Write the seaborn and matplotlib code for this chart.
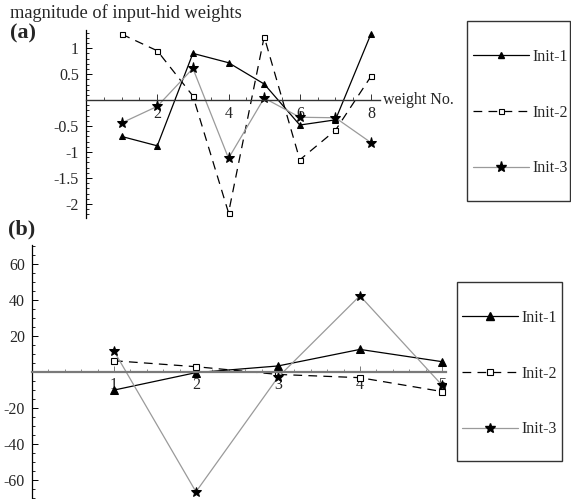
import numpy as np
import pandas as pd
import matplotlib
matplotlib.use('Agg')
import matplotlib.pyplot as plt
import seaborn as sns
from matplotlib.lines import Line2D
from matplotlib.patches import Rectangle
from matplotlib.ticker import FixedLocator, MultipleLocator

# (a) magnitude of input-hid weights, 8 weights
weights_a = [1, 2, 3, 4, 5, 6, 7, 8]
init1_a = [-0.70, -0.88, 0.90, 0.72, 0.31, -0.48, -0.38, 1.28]
init2_a = [1.27, 0.95, 0.08, -2.17, 1.22, -1.15, -0.58, 0.46]
init3_a = [-0.44, -0.12, 0.61, -1.12, 0.04, -0.33, -0.34, -0.82]

# (b) second set of weights, 5 weights
weights_b = [1, 2, 3, 4, 5]
init1_b = [-10.2, -0.5, 3.2, 12.4, 5.6]
init2_b = [6.1, 2.8, -1.5, -3.3, -11.0]
init3_b = [11.5, -66.7, -3.1, 42.2, -7.4]

labels = ['Init-1', 'Init-2', 'Init-3']

a_yticks = [-2, -1.5, -1, -0.5, 0.5, 1]
a_yticklabels = ['-2', '-1.5', '-1', '-0.5', '0.5', '1']
a_xticks = [2, 4, 6, 8]
b_yticks = [-60, -40, -20, 20, 40, 60]
b_yticklabels = ['-60', '-40', '-20', '20', '40', '60']
b_xticks = [1, 2, 3, 4, 5]

sns.set_style('white')
plt.rcParams['font.family'] = ['Liberation Serif', 'DejaVu Serif']
plt.rcParams['axes.unicode_minus'] = False
FS = 11.5

W, H = 571, 499
fig = plt.figure(figsize=(W / 100, H / 100), dpi=100)


def px_axes(left, top, right, bottom):
    return fig.add_axes([left / W, 1 - bottom / H, (right - left) / W, (bottom - top) / H])


def line_styles(big):
    k = 1.25 if big else 1.0
    return [
        dict(color='black', lw=0.9, marker='^', ms=5 * k, mfc='black', mec='black'),
        dict(color='black', lw=0.9, ls=(0, (7, 5)), marker='s', ms=3.6 * k, mfc='white',
             mec='black', mew=0.8),
        dict(color='#9a9a9a', lw=0.9, marker='*', ms=8 * (1.0 if not big else 0.95),
             mfc='black', mec='black'),
    ]


def cross_axes(ax, xaxis_color, xaxis_lw):
    for s in ['top', 'right']:
        ax.spines[s].set_visible(False)
    ax.spines['bottom'].set_position(('data', 0))
    ax.spines['bottom'].set_color(xaxis_color)
    ax.spines['bottom'].set_linewidth(xaxis_lw)
    ax.spines['left'].set_color('black')
    ax.spines['left'].set_linewidth(0.9)
    ax.tick_params(which='both', direction='in', labelsize=FS,
                   bottom=True, left=True, top=False, right=False)
    ax.tick_params(which='major', length=4, width=0.7)
    ax.tick_params(which='minor', length=2, width=0.6)
    ax.tick_params(axis='x', which='both', color=xaxis_color, pad=4)
    ax.tick_params(axis='y', which='both', color='black', pad=5)
    ax.set_xlabel('')
    ax.set_ylabel('')


def legend_box(ax, handles, box, anchor):
    l, t, r, b = box
    fig.patches.append(Rectangle((l / W, 1 - b / H), (r - l) / W, (b - t) / H,
                                 transform=fig.transFigure, fill=False,
                                 edgecolor='#333333', lw=1.0))
    ax.legend(handles=handles, labels=labels, frameon=False, loc='upper left',
              bbox_to_anchor=(anchor[0] / W, 1 - anchor[1] / H),
              bbox_transform=fig.transFigure, borderpad=0, borderaxespad=0,
              handlelength=3.5, handletextpad=0.25, labelspacing=2.48,
              fontsize=FS, numpoints=1)


# ---------------- panel (a)
ax_a = px_axes(86, 30, 380, 218)
series_a = [init1_a, init2_a, init3_a]
handles_a = []
for vals, st in zip(series_a, line_styles(False)):
    sns.lineplot(x=weights_a, y=vals, ax=ax_a, errorbar=None, **st)
    handles_a.append(Line2D([], [], **st))
ax_a.set_xlim(0, 8.25)
ax_a.set_ylim(-2.27, 1.35)
cross_axes(ax_a, '#333333', 1.0)
ax_a.xaxis.set_major_locator(FixedLocator(a_xticks))
ax_a.xaxis.set_minor_locator(MultipleLocator(0.5))
ax_a.yaxis.set_major_locator(FixedLocator(a_yticks))
ax_a.set_yticklabels(a_yticklabels)
ax_a.yaxis.set_minor_locator(MultipleLocator(0.1))
ax_a.text(8.33, 0, 'weight No.', va='center', ha='left', fontsize=FS, clip_on=False)
legend_box(ax_a, handles_a, (467, 21, 570, 201), (472.7, 49))

# ---------------- panel (b)
ax_b = px_axes(32, 245, 446, 499)
series_b = [init1_b, init2_b, init3_b]
handles_b = []
for vals, st in zip(series_b, line_styles(True)):
    sns.lineplot(x=weights_b, y=vals, ax=ax_b, errorbar=None, **st)
    handles_b.append(Line2D([], [], **st))
ax_b.set_xlim(0, 5.05)
ax_b.set_ylim(-70.7, 70.4)
cross_axes(ax_b, '#7a7a7a', 1.6)
ax_b.xaxis.set_major_locator(FixedLocator(b_xticks))
ax_b.xaxis.set_minor_locator(MultipleLocator(0.2))
ax_b.yaxis.set_major_locator(FixedLocator(b_yticks))
ax_b.set_yticklabels(b_yticklabels)
ax_b.yaxis.set_minor_locator(MultipleLocator(5))
legend_box(ax_b, handles_b, (457, 282, 562, 461), (462, 310))

# titles and panel letters
fig.text(10 / W, 1 - 13 / H, 'magnitude of input-hid weights', fontsize=13.2,
         va='center', ha='left')
fig.text(10 / W, 1 - 33 / H, '(a)', fontsize=16, fontweight='bold', va='center', ha='left')
fig.text(8 / W, 1 - 229 / H, '(b)', fontsize=16, fontweight='bold', va='center', ha='left')

fig.savefig('out.png', dpi=100)
